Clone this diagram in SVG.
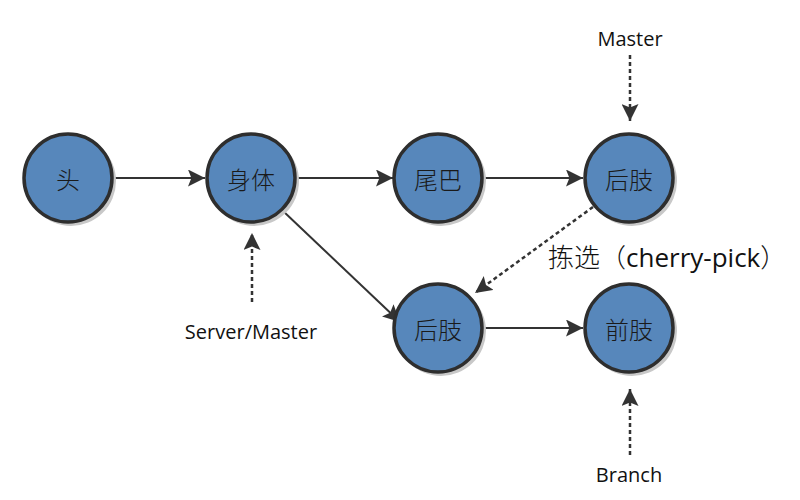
<svg xmlns="http://www.w3.org/2000/svg" width="800" height="500" viewBox="0 0 800 500">
  <style>
    .node-shadow { fill: #c8c8c8; }
    .node-circle { fill: #5787bb; stroke: #2e2e2e; stroke-width: 3.5; }
    .node-label { font-family: "Noto Sans CJK SC", sans-serif; font-weight: 300; font-size: 24px; fill: #1a1a1a; text-anchor: middle; dominant-baseline: central; }
    .edge { stroke: #333; stroke-width: 2; fill: none; }
    .ref { stroke: #333; stroke-width: 2.5; fill: none; stroke-dasharray: 4 3; }
    .tag { font-family: "Open Sans", "Liberation Sans", sans-serif; font-size: 20px; fill: #111; text-anchor: middle; }
    .pick { font-family: "Open Sans", "Noto Sans CJK SC", sans-serif; font-size: 26px; fill: #111; }
    .pick .cjk { font-family: "Noto Sans CJK SC", sans-serif; font-weight: 300; }
  </style>
  <defs>
    <marker id="arrowBig" viewBox="0 0 10 10" refX="10" refY="5" markerWidth="17" markerHeight="17" markerUnits="userSpaceOnUse" orient="auto">
      <path d="M0,0 L10,5 L0,10 L2,5 Z" fill="#333"/>
    </marker>
  </defs>

  <g id="connectors">
    <line class="edge" x1="112" y1="178" x2="205" y2="178" marker-end="url(#arrowBig)"/>
    <line class="edge" x1="296" y1="178" x2="393" y2="178" marker-end="url(#arrowBig)"/>
    <line class="edge" x1="483" y1="178" x2="583" y2="178" marker-end="url(#arrowBig)"/>
    <line class="edge" x1="283" y1="211" x2="400" y2="322" marker-end="url(#arrowBig)"/>
    <line class="edge" x1="483" y1="328" x2="583" y2="328" marker-end="url(#arrowBig)"/>
    <line class="ref" x1="593" y1="207" x2="475" y2="293" marker-end="url(#arrowBig)"/>
    <line class="ref" x1="630" y1="55" x2="630" y2="121" marker-end="url(#arrowBig)"/>
    <line class="ref" x1="252" y1="302" x2="252" y2="233" marker-end="url(#arrowBig)"/>
    <line class="ref" x1="630" y1="455" x2="630" y2="389" marker-end="url(#arrowBig)"/>
  </g>

  <g id="node-head">
    <circle class="node-shadow" cx="71" cy="181" r="45"/>
    <circle class="node-circle" cx="68" cy="178" r="44"/>
    <text class="node-label" x="68" y="178">头</text>
  </g>
  <g id="node-body">
    <circle class="node-shadow" cx="254" cy="181" r="45"/>
    <circle class="node-circle" cx="251" cy="178" r="44"/>
    <text class="node-label" x="251" y="178">身体</text>
  </g>
  <g id="node-tail">
    <circle class="node-shadow" cx="441" cy="181" r="45"/>
    <circle class="node-circle" cx="438" cy="178" r="44"/>
    <text class="node-label" x="438" y="178">尾巴</text>
  </g>
  <g id="node-hindlimb-master">
    <circle class="node-shadow" cx="632" cy="181" r="45"/>
    <circle class="node-circle" cx="629" cy="178" r="44"/>
    <text class="node-label" x="629" y="178">后肢</text>
  </g>
  <g id="node-hindlimb-branch">
    <circle class="node-shadow" cx="441" cy="331" r="45"/>
    <circle class="node-circle" cx="438" cy="328" r="44"/>
    <text class="node-label" x="438" y="328">后肢</text>
  </g>
  <g id="node-forelimb">
    <circle class="node-shadow" cx="632" cy="331" r="45"/>
    <circle class="node-circle" cx="629" cy="328" r="44"/>
    <text class="node-label" x="629" y="328">前肢</text>
  </g>

  <g id="labels">
    <text class="tag" x="630" y="46">Master</text>
    <text class="tag" x="251" y="339">Server/Master</text>
    <text class="tag" x="629" y="482">Branch</text>
    <text class="pick" x="548" y="267"><tspan class="cjk">拣选（</tspan>cherry-pick<tspan class="cjk">）</tspan></text>
  </g>
</svg>
